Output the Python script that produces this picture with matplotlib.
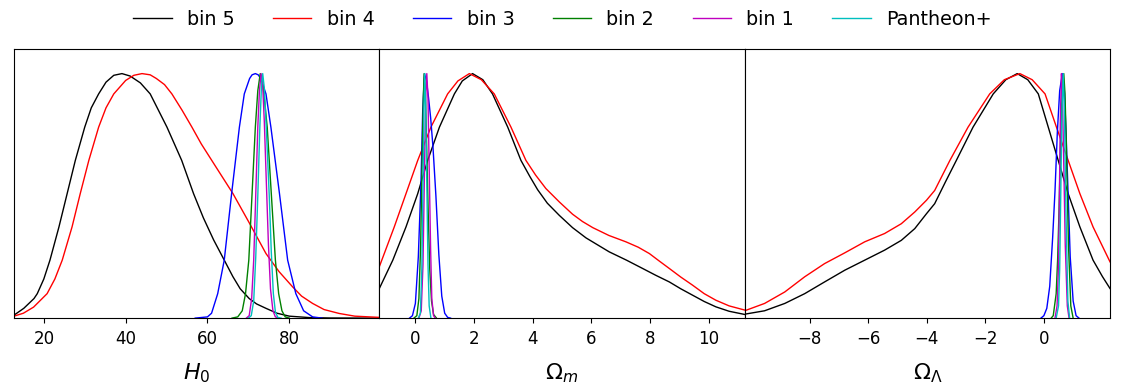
import numpy as np
import matplotlib
matplotlib.use('Agg')
import matplotlib.pyplot as plt

# legend labels and colours, one per chain
labels = ['bin 5', 'bin 4', 'bin 3', 'bin 2', 'bin 1', 'Pantheon+']
colors = ['k', 'r', 'b', 'g', 'm', 'c']

# ---- H0 marginals ----
h0_bin5_x = [12.7, 15.1, 17.6, 18.4, 20, 21.5, 23.7, 25.7, 27.7, 30.0, 31.6, 33.4, 35.2, 37.1, 39.1,
             41.1, 43.6, 46.0, 50.1, 53.7, 56.6, 59.0, 61.5, 63.7, 66.2, 68, 70.2, 72, 74.3, 77, 80,
             85, 90, 102]
h0_bin5_y = [0.012, 0.04, 0.08, 0.10, 0.16, 0.237, 0.373, 0.509, 0.645, 0.781, 0.86, 0.917, 0.965,
             0.993, 1.0, 0.99, 0.962, 0.917, 0.781, 0.645, 0.509, 0.41, 0.32, 0.25, 0.17, 0.12, 0.08,
             0.058, 0.04, 0.02, 0.008, 0.002, 0.0005, 0.0]
h0_bin4_x = [12.7, 15, 17.5, 20.8, 22.7, 24.5, 26.9, 28.9, 31.0, 33.4, 35.2, 37.1, 40, 42, 44, 46,
             47.5, 49.5, 51.3, 53.8, 56.2, 58.5, 62, 66.2, 70.2, 74.3, 77.5, 80.8, 83, 85.7, 88.5,
             92.2, 96, 102]
h0_bin4_y = [0.008, 0.02, 0.045, 0.10, 0.16, 0.237, 0.373, 0.509, 0.645, 0.781, 0.86, 0.917, 0.972,
             0.993, 1.0, 0.995, 0.98, 0.955, 0.917, 0.85, 0.781, 0.712, 0.62, 0.51, 0.39, 0.264,
             0.19, 0.128, 0.09, 0.06, 0.035, 0.019, 0.008, 0.003]
h0_bin3_x = [57, 60, 61, 62.5, 64.1, 65.9, 67.8, 69, 70.3, 70.9, 71.7, 72.4, 73, 74.3, 75.5, 77.6,
             79.6, 81.6, 83.5, 85.7, 88]
h0_bin3_y = [0.0, 0.005, 0.02, 0.10, 0.237, 0.509, 0.781, 0.917, 0.98, 0.995, 1.0, 0.995, 0.98, 0.917,
             0.781, 0.509, 0.237, 0.10, 0.03, 0.005, 0.0]
h0_bin2_x = [66, 67.4, 68.5, 69.3, 70.1, 70.9, 71.7, 72.3, 72.9, 73.6, 74.6, 75.6, 76.6, 77.4, 78.2,
             79, 80]
h0_bin2_y = [0.0, 0.005, 0.03, 0.10, 0.237, 0.509, 0.781, 0.93, 1.0, 0.95, 0.781, 0.509, 0.237, 0.10,
             0.03, 0.005, 0.0]
h0_bin1_x = [69.5, 70.2, 70.8, 71.3, 71.7, 72.3, 72.7, 73.1, 73.5, 73.9, 74.4, 74.9, 75.4, 76, 76.6, 77.5]
h0_bin1_y = [0.0, 0.01, 0.08, 0.237, 0.45, 0.781, 0.93, 1.0, 0.95, 0.8, 0.55, 0.3, 0.12, 0.03, 0.005, 0.0]
h0_pan_x = [70, 70.7, 71.3, 71.8, 72.3, 72.8, 73.2, 73.5, 73.9, 74.4, 75.1, 75.6, 76.1, 76.6, 77.2, 78]
h0_pan_y = [0.0, 0.01, 0.07, 0.25, 0.5, 0.78, 0.95, 1.0, 0.94, 0.77, 0.5, 0.27, 0.1, 0.025, 0.003, 0.0]

# ---- Omega_m marginals ----
om_bin5_x = [-1.23, -0.77, -0.32, 0.08, 0.42, 0.82, 1.33, 1.6, 1.95, 2.3, 2.63, 3.15, 3.6, 3.9, 4.17,
             4.5, 4.91, 5.36, 5.82, 6.61, 7.2, 7.75, 8.2, 8.66, 9.05, 9.45, 9.85, 10.25, 10.7, 11.23]
om_bin5_y = [0.121, 0.237, 0.373, 0.509, 0.645, 0.781, 0.917, 0.97, 1.0, 0.975, 0.917, 0.781, 0.645,
             0.58, 0.525, 0.47, 0.42, 0.37, 0.328, 0.271, 0.237, 0.203, 0.175, 0.148, 0.12, 0.094,
             0.068, 0.046, 0.028, 0.015]
om_bin4_x = [-1.23, -0.72, -0.32, 0.08, 0.53, 1.1, 1.45, 1.84, 2.25, 2.69, 3.26, 3.77, 4.1, 4.45,
             4.91, 5.36, 5.7, 6.05, 6.6, 7.18, 7.6, 7.98, 8.3, 8.66, 9.05, 9.45, 9.85, 10.25, 10.7, 11.23]
om_bin4_y = [0.21, 0.373, 0.509, 0.645, 0.781, 0.917, 0.97, 1.0, 0.975, 0.917, 0.781, 0.645, 0.585,
             0.53, 0.475, 0.425, 0.395, 0.37, 0.338, 0.312, 0.29, 0.264, 0.235, 0.203, 0.168, 0.135,
             0.10, 0.073, 0.05, 0.033]
om_bin3_x = [-0.2, -0.1, 0.0, 0.1, 0.19, 0.25, 0.31, 0.38, 0.45, 0.52, 0.6, 0.7, 0.8, 0.9, 1.0, 1.1, 1.2]
om_bin3_y = [0.0, 0.01, 0.06, 0.25, 0.55, 0.85, 1.0, 0.97, 0.9, 0.82, 0.70, 0.50, 0.26, 0.09, 0.02,
             0.003, 0.0]
om_bin2_x = [-0.05, 0.05, 0.12, 0.18, 0.23, 0.27, 0.3, 0.34, 0.39, 0.44, 0.49, 0.55, 0.62, 0.72]
om_bin2_y = [0.0, 0.01, 0.08, 0.3, 0.65, 0.9, 1.0, 0.92, 0.68, 0.42, 0.2, 0.07, 0.015, 0.0]
om_bin1_x = [0.12, 0.2, 0.26, 0.31, 0.35, 0.39, 0.43, 0.47, 0.52, 0.56, 0.62, 0.68]
om_bin1_y = [0.0, 0.03, 0.22, 0.6, 0.9, 1.0, 0.9, 0.62, 0.28, 0.08, 0.01, 0.0]
om_pan_x = [0.1, 0.17, 0.22, 0.26, 0.29, 0.32, 0.35, 0.39, 0.43, 0.47, 0.53]
om_pan_y = [0.0, 0.02, 0.2, 0.55, 0.85, 1.0, 0.87, 0.55, 0.22, 0.05, 0.0]

# ---- Omega_Lambda marginals ----
ol_bin5_x = [-10.22, -9.54, -8.85, -8.17, -7.49, -6.8, -6.12, -5.44, -4.87, -4.41, -4.01, -3.73,
             -3.35, -2.99, -2.42, -1.73, -1.3, -0.91, -0.55, -0.19, 0.15, 0.49, 0.83, 1.23, 1.68,
             2.0, 2.26]
ol_bin5_y = [0.016, 0.03, 0.06, 0.10, 0.148, 0.196, 0.237, 0.278, 0.318, 0.366, 0.427, 0.468, 0.56,
             0.645, 0.781, 0.917, 0.975, 1.0, 0.975, 0.917, 0.781, 0.645, 0.509, 0.373, 0.237, 0.17,
             0.121]
ol_bin4_x = [-10.22, -9.54, -8.85, -8.17, -7.49, -6.8, -6.12, -5.44, -4.87, -4.41, -4.01, -3.73,
             -3.21, -2.59, -1.85, -1.35, -0.82, -0.4, 0.04, 0.43, 0.83, 1.23, 1.68, 2.26]
ol_bin4_y = [0.03, 0.06, 0.107, 0.169, 0.223, 0.267, 0.312, 0.346, 0.386, 0.434, 0.482, 0.522, 0.645,
             0.781, 0.917, 0.975, 1.0, 0.975, 0.917, 0.781, 0.645, 0.509, 0.373, 0.23]
ol_bin3_x = [-0.1, 0.0, 0.1, 0.2, 0.3, 0.38, 0.46, 0.54, 0.63, 0.7, 0.76, 0.83, 0.9, 1.0, 1.1, 1.2]
ol_bin3_y = [0.0, 0.01, 0.04, 0.13, 0.33, 0.52, 0.76, 0.93, 1.0, 0.93, 0.75, 0.5, 0.25, 0.07, 0.01, 0.0]
ol_bin2_x = [0.25, 0.32, 0.42, 0.47, 0.52, 0.56, 0.6, 0.64, 0.68, 0.72, 0.76, 0.8, 0.84, 0.92, 1.0]
ol_bin2_y = [0.0, 0.01, 0.1, 0.24, 0.45, 0.66, 0.85, 0.96, 1.0, 0.92, 0.75, 0.52, 0.3, 0.05, 0.0]
ol_bin1_x = [0.38, 0.45, 0.49, 0.52, 0.54, 0.56, 0.6, 0.63, 0.66, 0.7, 0.73, 0.8, 0.86]
ol_bin1_y = [0.0, 0.05, 0.18, 0.4, 0.6, 0.8, 1.0, 0.92, 0.75, 0.5, 0.3, 0.05, 0.0]
ol_pan_x = [0.42, 0.5, 0.54, 0.57, 0.6, 0.62, 0.66, 0.7, 0.73, 0.76, 0.82, 0.88]
ol_pan_y = [0.0, 0.05, 0.2, 0.45, 0.7, 0.85, 1.0, 0.85, 0.62, 0.4, 0.07, 0.0]

panels = [
    ([h0_bin5_x, h0_bin4_x, h0_bin3_x, h0_bin2_x, h0_bin1_x, h0_pan_x],
     [h0_bin5_y, h0_bin4_y, h0_bin3_y, h0_bin2_y, h0_bin1_y, h0_pan_y],
     (12.7, 102.0), [20, 40, 60, 80], r'$H_0$'),
    ([om_bin5_x, om_bin4_x, om_bin3_x, om_bin2_x, om_bin1_x, om_pan_x],
     [om_bin5_y, om_bin4_y, om_bin3_y, om_bin2_y, om_bin1_y, om_pan_y],
     (-1.23, 11.23), [0, 2, 4, 6, 8, 10], r'$\Omega_m$'),
    ([ol_bin5_x, ol_bin4_x, ol_bin3_x, ol_bin2_x, ol_bin1_x, ol_pan_x],
     [ol_bin5_y, ol_bin4_y, ol_bin3_y, ol_bin2_y, ol_bin1_y, ol_pan_y],
     (-10.22, 2.26), [-8, -6, -4, -2, 0], r'$\Omega_\Lambda$'),
]

fig, axes = plt.subplots(1, 3, figsize=(11.25, 3.87), dpi=100)
fig.subplots_adjust(left=0.0124, right=0.9867, bottom=0.178, top=0.873, wspace=0)

for ax, (xs, ys, xlim, ticks, lab) in zip(axes, panels):
    for x, y, c, l in zip(xs, ys, colors, labels):
        ax.plot(x, y, color=c, lw=1.0, label=l)
    ax.set_xlim(xlim)
    ax.set_ylim(0, 1.1)
    ax.set_xticks(ticks)
    ax.set_yticks([])
    ax.tick_params(axis='x', labelsize=12, pad=5)
    ax.set_xlabel(lab, fontsize=16, labelpad=10)

handles, labs = axes[0].get_legend_handles_labels()
fig.legend(handles, labs, loc='upper center', ncol=6, frameon=False, fontsize=13.8,
           bbox_to_anchor=(0.5, 1.02))

plt.savefig('out.png')
